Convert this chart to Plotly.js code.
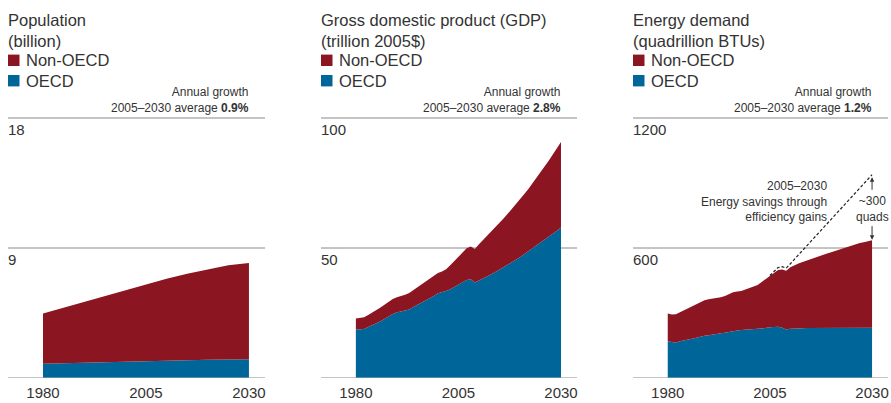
<!DOCTYPE html>
<html><head><meta charset="utf-8">
<script src="https://cdn.plot.ly/plotly-3.0.1.min.js"></script>
<style>html,body{margin:0;padding:0;background:#fff}#chart{width:891px;height:403px}</style>
</head><body><div id="chart"></div>
<script>
// ---------------- DATA ----------------
const popYears = [1980,1985,1990,1995,2000,2005,2010,2015,2020,2025,2030];
const popOECD    = [0.97,1.01,1.05,1.09,1.13,1.17,1.20,1.23,1.25,1.27,1.28];
const popNonOECD = [3.48,3.84,4.23,4.61,4.97,5.31,5.65,5.97,6.27,6.53,6.67];

const years = [1980,1981,1982,1983,1984,1985,1986,1987,1988,1989,
               1990,1991,1992,1993,1994,1995,1996,1997,1998,1999,
               2000,2001,2002,2003,2004,2005,2006,2007,2008,2009,
               2010,2011,2012,2013,2014,2015,2016,2017,2018,2019,
               2020,2021,2022,2023,2024,2025,2026,2027,2028,2029,2030];
const gdpOECD = [18.6,18.7,18.8,19.5,20.4,21.0,21.7,22.5,23.6,24.5,
                 25.2,25.5,25.9,26.3,27.2,28.0,28.9,29.8,30.6,31.5,
                 32.5,32.9,33.4,34.1,34.9,35.7,36.7,37.6,37.9,36.7,
                 37.4,38.1,38.9,39.8,40.7,41.6,42.5,43.4,44.4,45.4,
                 46.4,47.5,48.6,49.7,50.8,52.0,53.1,54.3,55.5,56.6,57.8];
const gdpNonOECD = [4.2,4.4,4.5,4.6,4.8,5.1,5.3,5.6,5.7,5.8,
                    5.8,5.9,6.0,6.3,6.5,6.7,6.9,7.3,7.4,7.5,
                    7.8,8.0,8.4,9.2,10.1,10.6,11.3,12.2,12.6,12.9,
                    14.0,14.9,15.7,16.4,17.2,18.0,18.8,19.7,20.5,21.4,
                    22.3,23.1,24.0,25.0,26.0,27.0,28.1,29.2,30.4,31.7,33.0];
const enOECD = [169,166,162,168,174,177,180,185,190,194,
                196,198,202,205,208,212,215,218,220,222,
                225,226,226,227,231,233,234,235,231,223,
                226,228,229,229,230,230,231,231,231,231,
                231,231,231,231,231,231,231,231,231,231,231];
const enNonOECD = [128,126,131,134,140,145,150,155,159,164,
                   166,167,165,167,170,176,180,180,181,186,
                   190,193,202,215,225,237,252,263,269,271,
                   284,292,299,306,312,319,325,331,337,343,
                   349,355,361,368,374,381,386,391,395,400,404];
// no-efficiency-gains path (dashed)
const noSaveYears = [2005,2006,2007,2008,2009,2030];
const noSaveTotal = [472,492,509,513,506,938];

const xTicks = [1980,2005,2030];
const titles = ['Population<br>(billion)','Gross domestic product (GDP)<br>(trillion 2005$)','Energy demand<br>(quadrillion BTUs)'];
const growth = ['0.9%','2.8%','1.2%'];
const yTicks = [[0,9,18],[0,50,100],[0,600,1200]];
const legendLabels = ['Non-OECD','OECD'];
const noteText = '2005–2030<br>Energy savings through<br>efficiency gains';
const savingsText = '~300<br>quads';

// ---------------- STYLE ----------------
const RED = '#8b1520', BLUE = '#00669a', TXT = '#333333', GRID = '#c4c4c4';
const FONT = 'Liberation Sans, Arial, Helvetica, sans-serif';
const W = 891, H = 403;
const panelLeft = [8, 321, 633], panelRight = [265, 577, 888];
const plotTop = 118, plotBottom = 377.7, extra = 3;
const px = v => v / W, py = v => 1 - v / H;

function area(x, y, color, n, group) {
  return {type:'scatter', mode:'lines', x:x, y:y, stackgroup:group,
    line:{width:0}, fillcolor:color, xaxis:'x'+(n>1?n:''), yaxis:'y'+(n>1?n:''),
    showlegend:false, hoverinfo:'skip'};
}
const traces = [
  area(popYears, popOECD, BLUE, 1, 'a'), area(popYears, popNonOECD, RED, 1, 'a'),
  area(years, gdpOECD, BLUE, 2, 'b'), area(years, gdpNonOECD, RED, 2, 'b'),
  area(years, enOECD, BLUE, 3, 'c'), area(years, enNonOECD, RED, 3, 'c'),
  {type:'scatter', mode:'lines', x:noSaveYears, y:noSaveTotal, xaxis:'x3', yaxis:'y3',
   line:{color:'#222', width:1.2, dash:'3px,2px'}, showlegend:false, hoverinfo:'skip'}
];

const layout = {width:W, height:H, margin:{l:0,r:0,t:0,b:0}, paper_bgcolor:'#fff', plot_bgcolor:'#fff',
  font:{family:FONT, color:TXT}, showlegend:false, annotations:[], shapes:[]};

const plotH = plotBottom - plotTop;
for (let i = 0; i < 3; i++) {
  const s = i === 0 ? '' : String(i+1);
  layout['xaxis'+s] = {domain:[px(panelLeft[i]), px(panelRight[i])], range:[1971.5,2033.9],
    anchor:'y'+s, tickvals:xTicks, ticktext:xTicks.map(String), ticks:'', showgrid:false,
    zeroline:false, showline:false, tickfont:{size:15, color:TXT, family:FONT},
    ticklabelstandoff:4, fixedrange:true};
  const yt = yTicks[i];
  layout['yaxis'+s] = {domain:[1 - plotBottom/H, 1 - (plotTop-extra)/H],
    range:[0, yt[2] * (plotH + extra) / plotH], anchor:'x'+s,
    tickvals:yt, showticklabels:false, ticks:'', showgrid:true, gridcolor:GRID, gridwidth:1.5,
    zeroline:true, zerolinecolor:GRID, zerolinewidth:1.5, showline:false, fixedrange:true};
  // y tick labels below gridlines
  yt.slice(1).forEach(v => layout.annotations.push({xref:'x'+s+' domain', yref:'y'+s, x:0, y:v,
    xanchor:'left', yanchor:'middle', yshift:-12, xshift:-2, text:String(v), showarrow:false,
    font:{size:15, color:TXT}}));
  // titles
  layout.annotations.push({xref:'paper', yref:'paper', x:px(panelLeft[i]-2), y:py(30),
    xanchor:'left', yanchor:'middle', align:'left', text:titles[i], showarrow:false,
    font:{size:16.5, color:TXT}});
  // legend
  [RED, BLUE].forEach((c, k) => {
    const yc = k === 0 ? 60.3 : 80.7;
    layout.shapes.push({type:'rect', xref:'paper', yref:'paper', x0:px(panelLeft[i]), x1:px(panelLeft[i]+11.5),
      y0:py(yc-5.7), y1:py(yc+5.7), fillcolor:c, line:{width:0}});
    layout.annotations.push({xref:'paper', yref:'paper', x:px(panelLeft[i]+16), y:py(yc),
      xanchor:'left', yanchor:'middle', text:legendLabels[k], showarrow:false, font:{size:16.5, color:TXT}});
  });
  // growth note
  layout.annotations.push({xref:'x'+s, yref:'paper', x:2030, y:py(99.5), xanchor:'right', yanchor:'middle',
    align:'right', xshift:2, text:'Annual growth<br>2005–2030 average <b>'+growth[i]+'</b>', showarrow:false,
    font:{size:12, color:TXT}});
}

// energy savings note
layout.annotations.push({xref:'paper', yref:'paper', x:px(829), y:py(201.5),
  xanchor:'right', yanchor:'middle', align:'right', text:noteText, showarrow:false, font:{size:12, color:TXT}});
layout.annotations.push({xref:'x3', yref:'paper', x:2030, y:py(208.5),
  xanchor:'center', yanchor:'middle', align:'center', text:savingsText, showarrow:false, font:{size:12, color:TXT}});
const total2030 = enOECD[enOECD.length-1] + enNonOECD[enNonOECD.length-1];
const dash2030 = noSaveTotal[noSaveTotal.length-1];
layout.annotations.push({xref:'x3', yref:'y3', x:2030, y:dash2030-12, ax:0, ay:14, axref:'pixel', ayref:'pixel',
  text:'', showarrow:true, arrowhead:2, arrowsize:0.9, arrowwidth:1, arrowcolor:'#333'});
layout.annotations.push({xref:'x3', yref:'y3', x:2030, y:total2030+3, ax:0, ay:-15, axref:'pixel', ayref:'pixel',
  text:'', showarrow:true, arrowhead:2, arrowsize:0.9, arrowwidth:1, arrowcolor:'#333'});

Plotly.newPlot('chart', traces, layout, {displayModeBar:false, staticPlot:true});
</script></body></html>
